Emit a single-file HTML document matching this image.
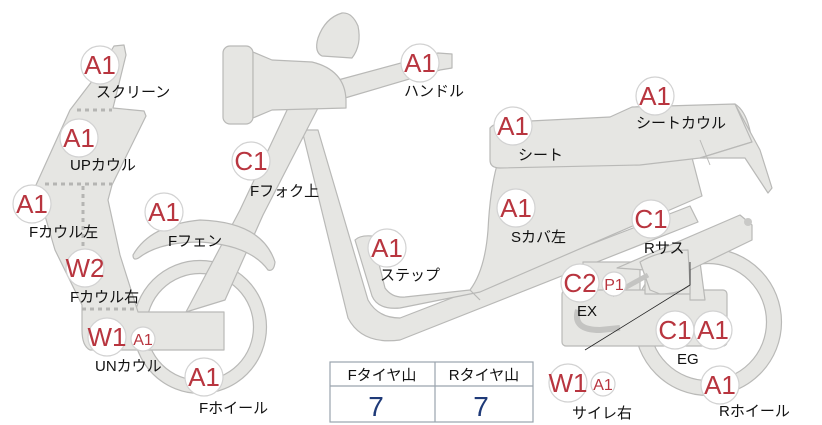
<!DOCTYPE html>
<html><head><meta charset="utf-8"><style>
body{margin:0;background:#fff;width:822px;height:425px;overflow:hidden}
svg{display:block}
.p{fill:#e6e6e3;stroke:#b9b9b7;stroke-width:1.2;stroke-linejoin:round}
.b{fill:#fff;stroke:#d2d2d2;stroke-width:1.2}
.bt{font-family:"Liberation Sans",sans-serif;fill:#b8353f;text-anchor:middle}
.l{font-family:"Liberation Sans","Noto Sans CJK JP",sans-serif;font-size:15px;fill:#111}
</style></head><body>
<svg width="822" height="425" viewBox="0 0 822 425">
<!-- rear wheel -->
<circle cx="708" cy="322" r="66" fill="none" stroke="#e6e6e3" stroke-width="15"/>
<circle cx="708" cy="322" r="73.5" fill="none" stroke="#b9b9b7" stroke-width="1.2"/>
<circle cx="708" cy="322" r="58.5" fill="none" stroke="#b9b9b7" stroke-width="1.2"/>
<!-- front wheel -->
<circle cx="200" cy="327" r="60" fill="none" stroke="#e6e6e3" stroke-width="13"/>
<circle cx="200" cy="327" r="66.5" fill="none" stroke="#b9b9b7" stroke-width="1.2"/>
<circle cx="200" cy="327" r="53.5" fill="none" stroke="#b9b9b7" stroke-width="1.2"/>
<!-- mirror -->
<path class="p" d="M318,38 Q325,18 342,13 Q352,12 358,26 Q362,45 352,58 L322,56 Q314,52 318,38Z"/>
<!-- handlebar -->
<path class="p" d="M338,80 L438,53 L452,54 L452,68 L440,70 L345,98Z"/>
<!-- frame down tube + lower tube -->
<path class="p" d="M302,130 L318,130 L368,300 Q378,318 400,318 L690,206 L698,222 L400,340 Q362,345 348,318 Z"/>
<!-- fork -->
<path class="p" d="M288,108 L318,108 L263,215 L225,300 L186,312 L240,210 Z"/>
<!-- headlight -->
<rect class="p" x="223" y="46" width="30" height="78" rx="7"/>
<path class="p" d="M253,52 L272,60 L312,62 Q345,70 346,100 L346,108 L272,110 L253,118 Z"/>
<!-- step + S cover -->
<path class="p" d="M355,240 Q360,235 372,236 L385,288 Q392,298 405,297 L470,290 Q485,270 488,230 Q490,190 497,165 L690,150 L702,196 L480,292 L400,308 Q378,310 372,296 Z"/>
<line x1="470" y1="290" x2="480" y2="300" stroke="#b9b9b7" stroke-width="1.2"/>
<!-- seat -->
<path class="p" d="M490,128 Q495,122 510,122 L610,117 L632,107 L735,104 Q748,112 752,142 L700,158 L640,165 L500,168 Q490,168 490,160 Z"/>
<path class="p" d="M735,104 L760,150 L772,188 L768,193 L745,158 L700,158 L752,142 Z"/>
<line x1="700" y1="140" x2="710" y2="165" stroke="#b9b9b7"/>
<!-- rear engine box & arm -->
<path class="p" d="M583,262 L640,262 L640,292 L583,292 Z"/>
<rect class="p" x="562" y="290" width="165" height="56" rx="4"/>
<path class="p" d="M690,262 L700,262 L705,300 L690,300 Z"/>
<path class="p" d="M617,268 L740,215 L752,225 L752,240 L690,270 L690,294 L645,294 L645,270 Z"/>
<path class="p" d="M640,262 Q660,250 688,250 L690,285 Q680,294 660,294 L650,290 Z"/>
<path d="M578,310 Q572,330 600,330 L620,328" fill="none" stroke="#c4c4c2" stroke-width="6"/>
<path d="M612,295 L648,275" stroke="#c4c4c2" stroke-width="5"/>
<circle cx="748" cy="222" r="4" fill="#c9c9c7"/>
<!-- left fairing -->
<path class="p" d="M96,76 L114,46 L124,45 L126,55 L113,108 L144,111 L146,116 L112,185 L108,200 L120,255 L138,312 L224,312 L224,350 L90,350 Q82,346 82,330 L82,305 L55,250 L36,185 L70,110 Z"/>
<g stroke="#b5b5b3" stroke-width="3" stroke-dasharray="4 4" fill="none">
<line x1="77" y1="110" x2="112" y2="110"/>
<line x1="45" y1="184" x2="112" y2="184"/>
<line x1="83" y1="186" x2="83" y2="250"/>
<line x1="82" y1="309" x2="136" y2="309"/>
</g>
<!-- fender -->
<path class="p" d="M133,255 Q150,225 200,220 Q262,222 275,262 Q274,272 268,270 Q250,245 200,242 Q160,242 140,257 Q133,262 133,255Z"/>
<!-- connector line -->
<path d="M690,262 L690,285 L585,350" fill="none" stroke="#222" stroke-width="0.8"/>
<!-- badges -->
<g>
<circle class="b" cx="100" cy="65" r="19"/><text class="bt" x="100" y="74" font-size="26">A1</text>
<circle class="b" cx="79" cy="138" r="19"/><text class="bt" x="79" y="147" font-size="26">A1</text>
<circle class="b" cx="32" cy="204" r="19"/><text class="bt" x="32" y="213" font-size="26">A1</text>
<circle class="b" cx="85" cy="268" r="19"/><text class="bt" x="85" y="277" font-size="26">W2</text>
<circle class="b" cx="107" cy="337" r="19"/><text class="bt" x="107" y="346" font-size="26">W1</text>
<circle class="b" cx="143" cy="339" r="12"/><text class="bt" x="143" y="345" font-size="16">A1</text>
<circle class="b" cx="204" cy="377" r="19"/><text class="bt" x="204" y="386" font-size="26">A1</text>
<circle class="b" cx="164" cy="212" r="19"/><text class="bt" x="164" y="221" font-size="26">A1</text>
<circle class="b" cx="251" cy="161" r="19"/><text class="bt" x="251" y="170" font-size="26">C1</text>
<circle class="b" cx="420" cy="63" r="19"/><text class="bt" x="420" y="72" font-size="26">A1</text>
<circle class="b" cx="387" cy="248" r="19"/><text class="bt" x="387" y="257" font-size="26">A1</text>
<circle class="b" cx="513" cy="126" r="19"/><text class="bt" x="513" y="135" font-size="26">A1</text>
<circle class="b" cx="655" cy="96" r="19"/><text class="bt" x="655" y="105" font-size="26">A1</text>
<circle class="b" cx="516" cy="208" r="19"/><text class="bt" x="516" y="217" font-size="26">A1</text>
<circle class="b" cx="651" cy="219" r="19"/><text class="bt" x="651" y="228" font-size="26">C1</text>
<circle class="b" cx="580" cy="283" r="19"/><text class="bt" x="580" y="292" font-size="26">C2</text>
<circle class="b" cx="614" cy="284" r="12"/><text class="bt" x="614" y="290" font-size="16">P1</text>
<circle class="b" cx="675" cy="330" r="19"/><text class="bt" x="675" y="339" font-size="26">C1</text>
<circle class="b" cx="713" cy="330" r="19"/><text class="bt" x="713" y="339" font-size="26">A1</text>
<circle class="b" cx="720" cy="385" r="19"/><text class="bt" x="720" y="394" font-size="26">A1</text>
<circle class="b" cx="568" cy="383" r="19"/><text class="bt" x="568" y="392" font-size="26">W1</text>
<circle class="b" cx="603" cy="384" r="12"/><text class="bt" x="603" y="390" font-size="16">A1</text>
</g>
<!-- labels -->
<text class="l" x="96" y="97">スクリーン</text>
<text class="l" x="70" y="170">UPカウル</text>
<text class="l" x="29" y="237">Fカウル左</text>
<text class="l" x="70" y="302">Fカウル右</text>
<text class="l" x="95" y="371">UNカウル</text>
<text class="l" x="199" y="413">Fホイール</text>
<text class="l" x="168" y="246">Fフェン</text>
<text class="l" x="250" y="196">Fフォク上</text>
<text class="l" x="404" y="96">ハンドル</text>
<text class="l" x="380" y="280">ステップ</text>
<text class="l" x="518" y="160">シート</text>
<text class="l" x="636" y="128">シートカウル</text>
<text class="l" x="511" y="242">Sカバ左</text>
<text class="l" x="644" y="253">Rサス</text>
<text class="l" x="577" y="316">EX</text>
<text class="l" x="677" y="364">EG</text>
<text class="l" x="572" y="418">サイレ右</text>
<text class="l" x="719" y="416">Rホイール</text>
<!-- table -->
<g font-family="Liberation Sans,'Noto Sans CJK JP',sans-serif">
<rect x="330" y="362" width="203" height="60" fill="#fff" stroke="#9aa3ad" stroke-width="1.2"/>
<line x1="330" y1="386" x2="533" y2="386" stroke="#9aa3ad" stroke-width="1.2"/>
<line x1="435" y1="362" x2="435" y2="422" stroke="#9aa3ad" stroke-width="1.2"/>
<text x="382" y="380" font-size="15" text-anchor="middle" fill="#111">Fタイヤ山</text>
<text x="484" y="380" font-size="15" text-anchor="middle" fill="#111">Rタイヤ山</text>
<text x="376" y="416" font-size="28" text-anchor="middle" fill="#1f3a78">7</text>
<text x="481" y="416" font-size="28" text-anchor="middle" fill="#1f3a78">7</text>
</g>
</svg>
</body></html>
